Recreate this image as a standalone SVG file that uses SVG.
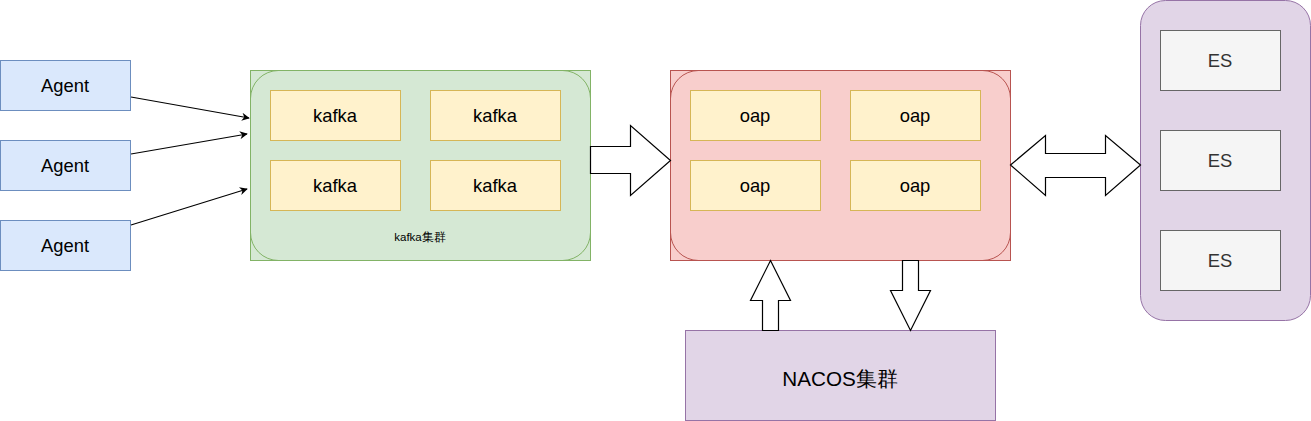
<svg xmlns="http://www.w3.org/2000/svg" width="1311" height="421" viewBox="0 0 1311 421">
<defs>
<style>
text{font-family:"Liberation Sans",Arial,sans-serif;text-anchor:middle;dominant-baseline:central;fill:#000}
.t{font-size:18.4px}
.agent{fill:#dae8fc;stroke:#6c8ebf}
.kafka{fill:#fff2cc;stroke:#d6b656}
.es{fill:#f5f5f5;stroke:#666666}
.purple{fill:#e1d5e7;stroke:#9673a6}
.fat{fill:#fff;stroke:#000;stroke-width:1.2}
.line{stroke:#000;stroke-width:1.2;fill:none}
</style>
<marker id="ah" viewBox="0 0 10 10" refX="9" refY="5" markerWidth="8" markerHeight="8" markerUnits="userSpaceOnUse" orient="auto"><path d="M0,0 L10,5 L0,10 L3,5 Z" fill="#000"/></marker>
</defs>
<rect width="1311" height="421" fill="#fff"/>
<g id="agent1"><rect class="agent" x="0.5" y="60.5" width="130" height="50"/><text class="t" x="65" y="85">Agent</text></g>
<g id="agent2"><rect class="agent" x="0.5" y="140.5" width="130" height="50"/><text class="t" x="65" y="165">Agent</text></g>
<g id="agent3"><rect class="agent" x="0.5" y="220.5" width="130" height="50"/><text class="t" x="65" y="245">Agent</text></g>
<g id="kafka-cluster">
<rect x="250.5" y="70.5" width="340" height="190" fill="#d5e8d4" stroke="#82b366"/>
<rect x="250.5" y="70.5" width="340" height="190" rx="28" fill="none" stroke="#82b366"/>
<text x="420" y="237" font-size="11.5">kafka集群</text>
</g>
<g id="kafka1"><rect class="kafka" x="270.5" y="90.5" width="130" height="50"/><text class="t" x="335" y="115">kafka</text></g>
<g id="kafka2"><rect class="kafka" x="430.5" y="90.5" width="130" height="50"/><text class="t" x="495" y="115">kafka</text></g>
<g id="kafka3"><rect class="kafka" x="270.5" y="160.5" width="130" height="50"/><text class="t" x="335" y="185">kafka</text></g>
<g id="kafka4"><rect class="kafka" x="430.5" y="160.5" width="130" height="50"/><text class="t" x="495" y="185">kafka</text></g>
<g id="oap-cluster">
<rect x="670.5" y="70.5" width="340" height="190" fill="#f8cecc" stroke="#b85450"/>
<rect x="670.5" y="70.5" width="340" height="190" rx="28" fill="none" stroke="#b85450"/>
</g>
<g id="oap1"><rect class="kafka" x="690.5" y="90.5" width="130" height="50"/><text class="t" x="755" y="115">oap</text></g>
<g id="oap2"><rect class="kafka" x="850.5" y="90.5" width="130" height="50"/><text class="t" x="915" y="115">oap</text></g>
<g id="oap3"><rect class="kafka" x="690.5" y="160.5" width="130" height="50"/><text class="t" x="755" y="185">oap</text></g>
<g id="oap4"><rect class="kafka" x="850.5" y="160.5" width="130" height="50"/><text class="t" x="915" y="185">oap</text></g>
<g id="es-cluster"><rect class="purple" x="1140.5" y="0.5" width="170" height="320" rx="25"/></g>
<g id="es1"><rect class="es" x="1160.5" y="30.5" width="120" height="60"/><text class="t" x="1220" y="60" style="fill:#333">ES</text></g>
<g id="es2"><rect class="es" x="1160.5" y="130.5" width="120" height="60"/><text class="t" x="1220" y="160" style="fill:#333">ES</text></g>
<g id="es3"><rect class="es" x="1160.5" y="230.5" width="120" height="60"/><text class="t" x="1220" y="260" style="fill:#333">ES</text></g>
<g id="nacos"><rect class="purple" x="685.5" y="330.5" width="310" height="90"/><text x="840" y="378" font-size="20.7">NACOS集群</text></g>
<g id="connectors">
<line class="line" x1="131" y1="97" x2="249" y2="118" marker-end="url(#ah)"/>
<line class="line" x1="131" y1="154" x2="247" y2="134" marker-end="url(#ah)"/>
<line class="line" x1="131" y1="225" x2="247" y2="189" marker-end="url(#ah)"/>
<path class="fat" d="M590.5,146.5 L630.5,146.5 L630.5,125.5 L670.5,160.5 L630.5,195.5 L630.5,173.5 L590.5,173.5 Z"/>
<path class="fat" d="M1010.5,165 L1045.5,135.5 L1045.5,153.5 L1105.5,153.5 L1105.5,135.5 L1140.5,165 L1105.5,195.5 L1105.5,177.5 L1045.5,177.5 L1045.5,195.5 Z"/>
<path class="fat" d="M770.5,260.5 L790.5,300.5 L778.5,300.5 L778.5,330.5 L762.5,330.5 L762.5,300.5 L750.5,300.5 Z"/>
<path class="fat" d="M902.5,260.5 L918.5,260.5 L918.5,290.5 L930.5,290.5 L910.5,330.5 L890.5,290.5 L902.5,290.5 Z"/>
</g>
</svg>
